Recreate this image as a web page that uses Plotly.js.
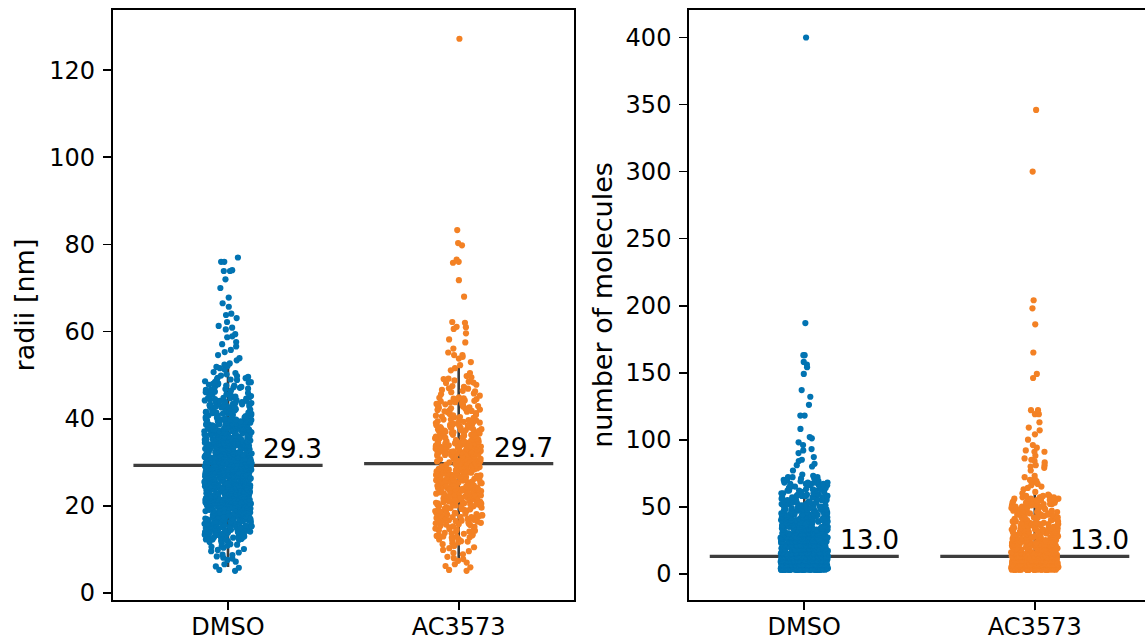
<!DOCTYPE html>
<html><head><meta charset="utf-8">
<script src="https://cdn.plot.ly/plotly-3.0.1.min.js"></script>
<style>html,body{margin:0;padding:0;overflow:hidden;background:#fff}#chart{width:1152px;height:641px}</style>
</head><body><div id="chart"></div>
<script>
const categories = ['DMSO', 'AC3573'];

const radiiDMSO = [
5.1,5.3,5.8,6.6,7.2,7.9,8.1,8.4,8.7,8.8,9.3,9.6,9.9,6.1,7.6,
10.4,11.7,12.9,13.6,14.2,10.9,12.3,13.1,14.8,11.2,12.6,13.9,14.5,10.1,11.9,13.3,14.1,12.0,10.7,14.9,13.5,11.4,12.8,14.4,13.8,11.1,12.4,14.7,10.6,13.0,12.2,
15.3,16.8,17.4,18.9,19.6,15.9,16.2,17.7,18.3,19.1,15.6,16.5,17.1,18.6,19.8,15.1,16.9,17.9,18.1,19.4,15.8,16.1,17.3,18.7,19.2,15.4,16.6,17.6,18.4,19.9,
15.2,16.3,17.2,18.8,19.5,15.7,16.7,17.8,18.2,19.3,15.5,16.4,17.5,18.5,19.7,15.0,16.0,17.0,18.0,19.0,15.9,16.9,17.4,18.6,19.4,16.2,17.8,18.9,19.6,15.3,
20.3,21.7,22.4,23.9,24.6,20.9,21.2,22.7,23.3,24.1,20.6,21.5,22.1,23.6,24.8,20.1,21.9,22.9,23.1,24.4,20.8,21.1,22.3,23.7,24.2,20.4,21.6,22.6,23.4,24.9,
20.2,21.3,22.2,23.8,24.5,20.7,21.7,22.8,23.2,24.3,20.5,21.4,22.5,23.5,24.7,20.0,21.0,22.0,23.0,24.0,20.9,21.9,22.4,23.6,24.4,20.2,21.8,22.9,23.9,24.6,
20.6,21.2,22.7,23.3,24.8,20.3,21.6,22.1,23.7,24.1,20.8,21.3,22.6,23.1,24.9,20.4,21.5,22.3,23.8,24.2,20.1,21.1,22.8,23.4,24.5,20.7,21.8,22.2,23.5,24.7,
20.5,21.4,22.5,23.2,24.3,
25.3,26.7,27.4,28.9,29.6,25.9,26.2,27.7,28.3,29.1,25.6,26.5,27.1,28.6,29.8,25.1,26.9,27.9,28.1,29.4,25.8,26.1,27.3,28.7,29.2,25.4,26.6,27.6,28.4,29.9,
25.2,26.3,27.2,28.8,29.5,25.7,26.8,27.8,28.2,29.3,25.5,26.4,27.5,28.5,29.7,25.0,26.0,27.0,28.0,29.0,25.9,26.9,27.4,28.6,29.4,25.2,26.8,27.9,28.9,29.6,
25.6,26.2,27.7,28.3,29.8,25.3,26.6,27.1,28.7,29.1,25.8,26.3,27.6,28.1,29.9,25.4,26.5,27.3,28.8,29.2,25.1,26.1,27.8,28.4,29.5,25.7,26.8,27.2,28.5,29.7,
25.5,26.4,27.5,28.2,29.3,25.0,26.7,27.9,28.6,29.0,25.6,26.0,27.0,28.9,29.4,25.2,26.9,27.4,28.0,29.8,
30.3,31.7,32.4,33.9,34.6,30.9,31.2,32.7,33.3,34.1,30.6,31.5,32.1,33.6,34.8,30.1,31.9,32.9,33.1,34.4,30.8,31.1,32.3,33.7,34.2,30.4,31.6,32.6,33.4,34.9,
30.2,31.3,32.2,33.8,34.5,30.7,31.8,32.8,33.2,34.3,30.5,31.4,32.5,33.5,34.7,30.0,31.0,32.0,33.0,34.0,30.9,31.9,32.4,33.6,34.4,30.2,31.8,32.9,33.9,34.6,
30.6,31.2,32.7,33.3,34.8,30.3,31.6,32.1,33.7,34.1,30.8,31.3,32.6,33.1,34.9,30.4,31.5,32.3,33.8,34.2,30.1,31.1,32.8,33.4,34.5,30.7,31.7,32.2,33.5,34.7,
30.5,31.4,32.5,33.2,34.3,30.0,31.9,32.0,33.0,34.0,
35.3,36.7,37.4,38.9,39.6,35.9,36.2,37.7,38.3,39.1,35.6,36.5,37.1,38.6,39.8,35.1,36.9,37.9,38.1,39.4,35.8,36.1,37.3,38.7,39.2,35.4,36.6,37.6,38.4,39.9,
35.2,36.3,37.2,38.8,39.5,35.7,36.8,37.8,38.2,39.3,35.5,36.4,37.5,38.5,39.7,35.0,36.0,37.0,38.0,39.0,35.9,36.9,37.4,38.6,39.4,35.2,36.8,37.9,38.9,39.6,
35.6,36.2,37.7,38.3,39.8,35.3,36.6,37.1,38.7,39.1,
40.4,41.8,42.3,43.6,44.9,40.9,41.2,42.7,43.1,44.2,40.2,41.5,42.9,43.8,44.5,40.7,41.1,42.1,43.4,44.7,40.1,41.9,42.5,43.3,44.1,40.6,41.4,42.6,43.9,44.4,
40.8,41.6,42.2,43.2,44.8,40.3,41.3,42.8,
45.2,45.9,46.4,46.8,47.1,47.6,48.0,48.3,48.9,49.4,49.8,45.6,46.1,47.3,47.9,48.6,49.1,45.4,46.6,47.8,48.4,49.6,
50.2,50.7,51.3,51.9,52.4,52.7,53.4,53.9,54.6,55.3,50.5,51.6,52.1,
56.6,57.6,58.9,58.7,60.5,60.9,61.3,63.1,63.8,64.1,65.7,55.8,57.1,59.4,62.2,
66.5,67.8,70.0,72.0,73.9,73.9,74.1,76.0,76.0,77.0,
12.2,13.7,14.4,12.9,13.3,14.8,12.5,13.9,14.1,12.7,13.1,14.6,12.3,13.5,14.3,12.8,13.8,14.9,13.4,14.0,
15.2,16.7,17.3,18.8,19.4,15.6,16.1,17.9,18.2,19.7,15.9,16.4,17.1,18.5,19.2,15.3,16.9,17.6,18.1,19.9,15.8,16.3,17.4,18.7,19.0,15.1,16.6,17.8,18.4,19.5,
15.5,16.0,17.2,18.9,19.3,15.7,16.8,17.5,18.3,19.6,
20.4,21.8,22.3,23.6,24.9,20.7,21.1,22.8,23.2,24.5,20.2,21.6,22.5,23.9,24.1,20.9,21.4,22.1,23.4,24.7,20.5,21.9,22.6,23.1,24.3,20.1,21.3,22.9,23.7,24.6,
20.8,21.5,22.2,23.5,24.0,20.3,21.7,22.7,23.3,24.8,20.6,21.2,22.4,23.8,24.2,20.0,21.0,22.0,23.0,24.4,20.4,21.6,22.3,23.6,24.9,20.7,21.8,22.8,23.2,24.5,
20.2,21.1,22.5,23.9,24.1,
25.4,26.8,27.3,28.6,29.9,25.7,26.1,27.8,28.2,29.5,25.2,26.6,27.5,28.9,29.1,25.9,26.4,27.1,28.4,29.7,25.5,26.9,27.6,28.1,29.3,25.1,26.3,27.9,28.7,29.6,
25.8,26.5,27.2,28.5,29.0,25.3,26.7,27.7,28.3,29.8,25.6,26.2,27.4,28.8,29.2,25.0,26.0,27.0,28.0,29.4,25.4,26.6,27.3,28.6,29.9,25.7,26.8,27.8,28.2,29.5,
25.2,26.1,27.5,28.9,29.1,25.9,26.4,27.6,28.4,29.7,
30.4,31.8,32.3,33.6,34.9,30.7,31.1,32.8,33.2,34.5,30.2,31.6,32.5,33.9,34.1,30.9,31.4,32.1,33.4,34.7,30.5,31.9,32.6,33.1,34.3,30.1,31.3,32.9,33.7,34.6,
30.8,31.5,32.2,33.5,34.0,30.3,31.7,32.7,33.3,34.8,30.6,31.2,32.4,33.8,34.2,30.0,31.0,32.0,33.0,34.4,30.4,31.6,32.3,33.6,34.9,30.7,31.8,32.8,33.2,34.5,
30.2,31.1,32.5,33.9,34.1,
35.4,36.8,37.3,38.6,39.9,35.7,36.1,37.8,38.2,39.5,35.2,36.6,37.5,38.9,39.1,35.9,36.4,37.1,38.4,39.7,35.5,36.9,37.6,38.1,39.3,35.1,36.3,37.9,38.7,39.6,
35.8,36.5,37.2,38.5,39.0,35.3,36.7,37.7,38.3,39.8,35.6,36.2,37.4,38.8,39.2,
40.5,41.9,42.4,43.7,44.6,40.3,41.2,42.9,43.1,44.3,40.8,41.6,42.2,43.5,44.8,40.1,41.4,42.7,43.9,44.1,40.6,41.7,42.5,43.3,44.9,
45.5,46.2,46.9,47.4,48.1,48.7,49.3,49.9,45.8,46.7,47.6,48.4,49.0,45.1,47.2
];

const radiiAC3573 = [
5.1,5.3,5.9,6.6,7.0,7.4,8.0,8.3,8.9,9.2,9.6,6.2,7.8,9.9,
10.3,10.8,11.2,11.6,11.9,12.3,12.7,13.0,13.4,13.7,14.1,14.5,14.8,10.5,11.4,12.1,12.9,13.6,14.3,11.8,13.2,14.6,
15.2,15.6,15.9,16.3,16.5,16.9,17.2,17.4,17.8,18.1,18.3,18.6,18.9,19.2,19.4,19.7,15.4,16.1,16.7,17.1,17.6,18.2,18.7,19.1,19.8,15.8,16.4,17.3,17.9,18.4,19.0,19.5,16.0,17.5,18.8,
20.1,20.4,20.6,20.9,21.2,21.3,21.7,21.9,22.1,22.4,22.6,22.8,23.1,23.3,23.6,23.8,24.0,24.3,24.5,24.8,20.2,20.7,21.1,21.5,21.8,22.2,22.5,22.9,23.2,23.5,
23.9,24.2,24.6,24.9,20.3,20.8,21.4,21.6,22.3,22.7,23.0,23.4,23.7,24.1,24.4,24.7,20.5,21.0,22.0,22.8,23.3,24.0,20.9,21.9,23.8,
25.1,25.3,25.6,25.8,26.0,26.2,26.5,26.7,26.9,27.1,27.4,27.6,27.8,28.0,28.3,28.5,28.7,28.9,29.2,29.4,29.6,29.8,25.2,25.5,25.9,26.3,26.6,27.0,27.3,27.7,
28.1,28.4,28.8,29.1,29.5,29.9,25.4,25.7,26.1,26.4,26.8,27.2,27.5,27.9,28.2,28.6,29.0,29.3,29.7,29.6,
30.1,30.3,30.6,30.8,31.0,31.2,31.5,31.7,31.9,32.1,32.4,32.6,32.8,33.0,33.3,33.5,33.7,33.9,34.2,34.4,34.6,34.8,30.2,30.5,30.9,31.3,31.6,32.0,32.3,32.7,
33.1,33.4,33.8,34.1,34.5,34.9,30.4,30.7,31.1,31.4,31.8,32.2,32.5,32.9,33.2,33.6,34.0,34.3,34.7,30.0,31.9,32.4,33.0,33.6,34.4,
35.1,35.4,35.7,35.9,36.2,36.4,36.7,36.9,37.1,37.4,37.6,37.9,38.1,38.3,38.6,38.8,39.1,39.3,39.6,39.8,35.3,35.8,36.1,36.6,37.0,37.3,37.8,38.2,38.7,39.0,
39.5,35.5,36.3,36.8,37.5,38.0,38.4,39.2,39.7,36.0,
40.2,40.6,40.9,41.3,41.7,42.0,42.4,42.8,43.1,43.5,43.9,44.2,44.6,44.9,40.4,41.1,41.8,42.5,43.3,44.0,44.7,40.8,41.5,42.2,43.0,43.7,44.4,42.9,
45.3,45.8,46.4,46.9,47.3,47.8,48.2,48.5,49.1,49.8,46.1,47.0,48.8,49.5,
50.5,51.1,51.6,52.3,53.0,53.8,54.2,54.6,54.6,55.2,
56.1,57.5,58.2,59.6,60.6,61.0,61.1,62.0,62.2,
68.0,71.8,75.8,76.0,76.5,79.8,80.3,83.3,127.2,
12.4,13.3,14.2,12.8,13.8,14.7,13.1,14.4,
15.3,16.6,17.7,18.5,19.3,15.7,16.2,17.0,18.0,19.6,15.1,16.8,17.8,18.3,19.9,16.5,17.4,18.9,
20.4,21.7,22.3,23.6,24.8,20.8,21.2,22.9,23.1,24.4,20.2,21.5,22.6,23.9,24.2,20.6,21.9,22.1,23.4,24.6,20.0,21.3,22.5,23.8,24.0,20.7,22.4,23.5,
25.3,26.6,27.7,28.4,29.5,25.8,26.1,27.2,28.9,29.1,25.6,26.4,27.9,28.3,29.8,25.1,26.9,27.4,28.6,29.3,25.9,26.2,27.6,28.0,29.6,25.4,27.1,28.7,
30.4,31.7,32.3,33.6,34.8,30.8,31.2,32.9,33.1,34.4,30.2,31.5,32.6,33.9,34.2,30.6,31.9,32.1,33.4,34.6,30.0,31.3,32.5,33.8,34.0,30.7,32.4,33.5,
35.2,36.5,37.6,38.5,39.4,35.6,36.1,37.2,38.9,39.1,35.9,36.7,37.9,38.3,39.8,35.4,36.3,37.4,38.6,39.6,36.9,38.1,
40.3,41.6,42.1,43.4,44.5,40.7,41.9,42.6,43.8,44.1,40.5,42.3,43.2,44.8,
45.6,46.6,47.5,48.3,49.2,46.3
];

const moleculesDMSO = [
3,3,3,3,3,3,3,3,3,3, 3,3,3,3,3,3,3,3,3,3, 3,3,3,3,3,3,
4,4,4,4,4,4,4,4,4,4, 4,4,4,4,4,4,4,4,4,4, 4,4,4,4,4,4,4,4,4,4, 4,4,
5,5,5,5,5,5,5,5,5,5, 5,5,5,5,5,5,5,5,5,5, 5,5,5,5,5,5,5,5,5,5, 5,5,5,
6,6,6,6,6,6,6,6,6,6, 6,6,6,6,6,6,6,6,6,6, 6,6,6,6,6,6,6,6,6,6, 6,6,
7,7,7,7,7,7,7,7,7,7, 7,7,7,7,7,7,7,7,7,7, 7,7,7,7,7,7,7,7,7,7,
8,8,8,8,8,8,8,8,8,8, 8,8,8,8,8,8,8,8,8,8, 8,8,8,8,8,8,8,8,
9,9,9,9,9,9,9,9,9,9, 9,9,9,9,9,9,9,9,9,9, 9,9,9,9,9,9,
10,10,10,10,10,10,10,10,10,10, 10,10,10,10,10,10,10,10,10,10, 10,10,10,10,
11,11,11,11,11,11,11,11,11,11, 11,11,11,11,11,11,11,11,11,11, 11,11,
12,12,12,12,12,12,12,12,12,12, 12,12,12,12,12,12,12,12,12,12,
13,13,13,13,13,13,13,13,13,13, 13,13,13,13,13,13,13,
14,14,14,14,14,14,14,14,14,14, 14,14,14,14,14,
15,15,15,15,15,15,15,15,15,15, 15,15,15,
16,16,16,16,16,16,16,16,16,16, 16,16,
17,17,17,17,17,17,17,17,17,17, 17,
18,18,18,18,18,18,18,18,18,18,
19,19,19,19,19,19,19,19,19,
20,20,20,20,20,20,20,20,
21,21,21,21,21,21,21,22,22,22,22,22,22,22,23,23,23,23,23,23,23,24,24,24,24,24,24,25,25,25,25,25,25,26,26,26,26,26,26,27,27,27,27,27,28,28,28,28,28,29,29,29,29,29,30,30,30,30,30,22,24,26,21,23,25,
31,31,31,31,31,32,32,32,32,32,33,33,33,33,34,34,34,34,34,35,35,35,35,36,36,36,36,37,37,37,37,38,38,38,38,39,39,39,40,40,40,40,33,35,37,
41,41,41,42,42,42,43,43,43,44,44,44,45,45,45,46,46,46,47,47,48,48,48,49,49,50,50,50,42,46,
51,51,52,52,53,53,54,54,55,55,56,56,57,57,58,58,59,59,60,60,53,57,
61,62,63,64,65,66,66,67,68,68,69,70,70,71,72,73,74,62,65,69,72,67,
77,80,81,82,84,85,87,90,92,93,96,98,101,
102,108,118,118,126,132,137,
149,154,156,158,163,163,187,
400,
14,14,14,14,14,14,15,15,15,15,15,15,16,16,16,16,16,16,17,17,17,17,17,17,18,18,18,18,18,19,19,19,19,19,20,20,20,20,20,20,
21,21,21,21,21,21,22,22,22,22,22,22,23,23,23,23,23,23,24,24,24,24,24,24,25,25,25,25,25,25,26,26,26,26,26,26,27,27,27,27,27,27,28,28,28,28,28,28,29,29,29,29,29,29,30,30,30,30,30,30,
31,31,31,31,31,32,32,32,32,32,33,33,33,33,33,34,34,34,34,34,35,35,35,35,35,36,36,36,36,37,37,37,37,38,38,38,38,39,39,39,39,40,40,40,40,
41,41,41,41,42,42,42,42,43,43,43,43,44,44,44,44,45,45,45,45,46,46,46,47,47,47,48,48,48,49,49,49,50,50,50,
51,51,52,52,53,53,54,54,55,55,56,56,57,57,58,58,59,60,60,52,55,58,
61,62,63,63,64,65,66,67,67,68,69,70,71,72,62,64,66,68,
3,3,3,3,3,3,3,3,3,3,3,3,3,3,3,3,3,3,
4,4,4,4,4,4,4,4,4,4,4,4,4,4,4,4,4,4,4,4,4,4,4,4,
5,5,5,5,5,5,5,5,5,5,5,5,5,5,5,5,5,5,5,5,5,5,5,5,5,5,
6,6,6,6,6,6,6,6,6,6,6,6,6,6,6,6,6,6,6,6,6,6,6,6,6,6,
7,7,7,7,7,7,7,7,7,7,7,7,7,7,7,7,7,7,7,7,7,7,7,7,7,
8,8,8,8,8,8,8,8,8,8,8,8,8,8,8,8,8,8,8,8,8,8,8,8,
9,9,9,9,9,9,9,9,9,9,9,9,9,9,9,9,9,9,9,9,9,9,
10,10,10,10,10,10,10,10,10,10,10,10,10,10,10,10,10,10,10,10,10,
11,11,11,11,11,11,11,11,11,11,11,11,11,11,11,11,11,11,
12,12,12,12,12,12,12,12,12,12,12,12,12,12,12,12
];

const moleculesAC3573 = [
3,3,3,3,3,3,3,3,3,3, 3,3,3,3,3,3,3,
4,4,4,4,4,4,4,4,4,4, 4,4,4,4,4,4,4,4,4,4,
5,5,5,5,5,5,5,5,5,5, 5,5,5,5,5,5,5,5,5,5, 5,
6,6,6,6,6,6,6,6,6,6, 6,6,6,6,6,6,6,6,6,6, 6,
7,7,7,7,7,7,7,7,7,7, 7,7,7,7,7,7,7,7,7,
8,8,8,8,8,8,8,8,8,8, 8,8,8,8,8,8,8,8,8,
9,9,9,9,9,9,9,9,9,9, 9,9,9,9,9,9,9,9,
10,10,10,10,10,10,10,10,10,10, 10,10,10,10,10,10,10,
11,11,11,11,11,11,11,11,11,11, 11,11,11,11,11,11,
12,12,12,12,12,12,12,12,12,12, 12,12,12,12,12,
13,13,13,13,13,13,13,13,13,13, 13,13,
14,14,14,14,14,14,14,14,14,
15,15,15,15,15,15,15,15,
16,16,16,16,16,16,16,16,
17,17,17,17,17,17,17,
18,18,18,18,18,18,
19,19,19,19,19,19,
20,20,20,20,20,
21,21,21,21,22,22,22,22,23,23,23,23,24,24,24,24,25,25,25,25,26,26,26,26,27,27,27,28,28,28,29,29,29,30,30,30,22,26,
31,31,31,32,32,32,33,33,33,34,34,34,35,35,35,36,36,37,37,37,38,38,39,39,40,40,36,
41,41,42,42,43,43,44,44,45,45,46,46,47,47,48,48,49,50,50,44,
51,52,52,53,54,55,55,56,57,57,58,59,60,53,56,
61,63,65,66,68,69,70,72,73,64,67,71,
77,79,80,81,81,83,84,86,88,91,91,92,94,96,100,85,
107,109,119,119,122,122,104,113,
146,149,165,186,198,204,
300,346,
14,14,14,14,15,15,15,15,16,16,16,16,17,17,17,18,18,18,19,19,19,20,20,20,
21,21,21,22,22,22,23,23,23,24,24,24,25,25,25,26,26,26,27,27,27,28,28,28,29,29,29,30,30,30,23,27,
31,31,31,32,32,32,33,33,33,34,34,34,35,35,35,36,36,36,37,37,38,38,39,39,40,40,
41,41,42,42,43,43,44,44,45,45,46,46,47,47,48,48,49,49,50,50,
51,51,52,52,53,53,54,54,55,55,56,56,57,57,58,58,53,55,
3,3,3,3,3,3,3,3,3,3,
4,4,4,4,4,4,4,4,4,4,4,4,4,
5,5,5,5,5,5,5,5,5,5,5,5,5,5,
6,6,6,6,6,6,6,6,6,6,6,6,6,6,
7,7,7,7,7,7,7,7,7,7,7,7,7,7,
8,8,8,8,8,8,8,8,8,8,8,8,8,
9,9,9,9,9,9,9,9,9,9,9,9,
10,10,10,10,10,10,10,10,10,10,10,
11,11,11,11,11,11,11,11,11,11,
12,12,12,12,12,12,12,12,12
];

// summary values
const radiiMedians = [29.3, 29.7];
const moleculesMedians = [13.0, 13.0];
const radiiRangeLow = [6.0, 7.3];
const radiiRangeHigh = [52.7, 51.8];
const moleculesRangeLow = [3.5, 3.5];
const moleculesRangeHigh = [58, 61.7];

const radiiTicks = [0, 20, 40, 60, 80, 100, 120];
const moleculesTicks = [0, 50, 100, 150, 200, 250, 300, 350, 400];

const colors = ['#0173b2', '#f38124'];
const FONT = 'DejaVu Sans';
const LINE = '#3d3d3d';

function strip(values, idx, xa, ya) {
  return {
    type: 'box', y: values, x0: idx, name: categories[idx],
    xaxis: xa, yaxis: ya,
    boxpoints: 'all', jitter: 1, pointpos: 0, width: 0.205,
    fillcolor: 'rgba(0,0,0,0)', line: {width: 0, color: 'rgba(0,0,0,0)'},
    marker: {color: colors[idx], size: 6.2, opacity: 1, line: {width: 0}},
    showlegend: false, hoverinfo: 'y'
  };
}

const data = [
  strip(radiiDMSO, 0, 'x', 'y'),
  strip(radiiAC3573, 1, 'x', 'y'),
  strip(moleculesDMSO, 0, 'x2', 'y2'),
  strip(moleculesAC3573, 1, 'x2', 'y2')
];

const shapes = [];
const annotations = [];
function summary(meds, lows, highs, xr, yr) {
  meds.forEach((m, i) => {
    shapes.push({type: 'line', xref: xr, yref: yr, x0: i, x1: i, y0: lows[i], y1: highs[i],
      line: {color: LINE, width: 2.6}, layer: 'below'});
    shapes.push({type: 'line', xref: xr, yref: yr, x0: i - 0.41, x1: i + 0.41, y0: m, y1: m,
      line: {color: LINE, width: 3.2}, layer: 'below'});
    annotations.push({xref: xr, yref: yr, x: i + 0.145, y: m, text: m.toFixed(1),
      xanchor: 'left', yanchor: 'bottom', showarrow: false, yshift: -1,
      font: {family: FONT, size: 26.5, color: '#000'}});
  });
}
summary(radiiMedians, radiiRangeLow, radiiRangeHigh, 'x', 'y');
summary(moleculesMedians, moleculesRangeLow, moleculesRangeHigh, 'x2', 'y2');

const axCommon = {
  showline: true, mirror: true, linecolor: '#000', linewidth: 1.8,
  ticks: 'outside', ticklen: 8, tickwidth: 1.8, tickcolor: '#000',
  tickfont: {family: FONT, size: 24, color: '#000'},
  showgrid: false, zeroline: false, fixedrange: true
};

const layout = {
  width: 1152, height: 641,
  margin: {l: 0, r: 0, t: 10, b: 41},
  paper_bgcolor: '#fff', plot_bgcolor: '#fff',
  font: {family: FONT, color: '#000'},
  showlegend: false,
  xaxis: Object.assign({}, axCommon, {domain: [0.0978, 0.4983], range: [-0.5, 1.5], type: 'linear',
    tickmode: 'array', tickvals: [0, 1], ticktext: categories, anchor: 'y', ticklabelstandoff: -4}),
  yaxis: Object.assign({}, axCommon, {range: [-1.6, 133.8], tickmode: 'array', tickvals: radiiTicks,
    anchor: 'x', ticklabelstandoff: 3,
    title: {text: 'radii [nm]', font: {family: FONT, size: 27, color: '#000'}, standoff: 7}}),
  xaxis2: Object.assign({}, axCommon, {domain: [0.5981, 0.9983], range: [-0.5, 1.5], type: 'linear',
    tickmode: 'array', tickvals: [0, 1], ticktext: categories, anchor: 'y2', ticklabelstandoff: -4}),
  yaxis2: Object.assign({}, axCommon, {range: [-19.6, 420.5], tickmode: 'array', tickvals: moleculesTicks,
    anchor: 'x2', ticklabelstandoff: 3,
    title: {text: 'number of molecules', font: {family: FONT, size: 27, color: '#000'}, standoff: 5}}),
  shapes: shapes,
  annotations: annotations
};

Plotly.newPlot('chart', data, layout, {displayModeBar: false, staticPlot: true});
</script>
</body></html>
